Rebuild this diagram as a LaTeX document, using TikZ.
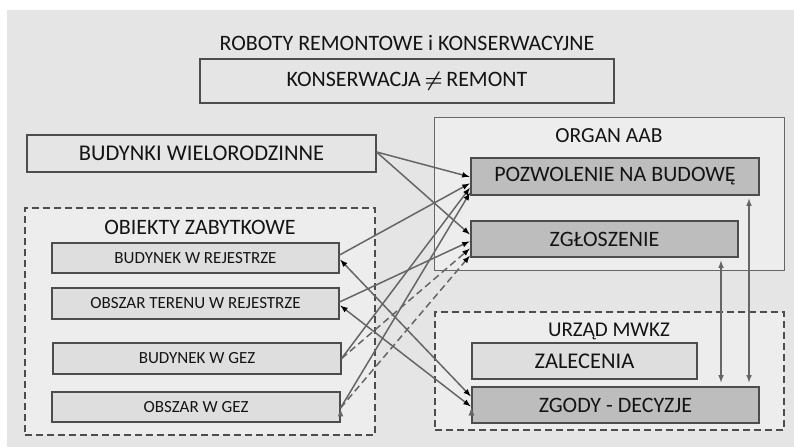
\documentclass[tikz,border=0pt]{standalone}
\usepackage{fontspec}
\setmainfont{Carlito}
\usetikzlibrary{arrows}
\definecolor{tlo}{HTML}{E5E5E5}
\definecolor{jasny}{HTML}{DEDEDE}
\definecolor{szary}{HTML}{BDBDBD}
\definecolor{wnetrze}{HTML}{EDEDED}
\definecolor{ramka}{HTML}{4D4D4D}
\definecolor{linia}{HTML}{666666}
\definecolor{tekst}{HTML}{141414}

\begin{document}
\begin{tikzpicture}[x=1pt,y=-1pt,shorten >=1pt,>=latex,
    box/.style={draw=ramka,line width=1.1pt,fill=jasny,inner sep=0pt,text=tekst},
    ciemny/.style={box,fill=szary},
    grupa/.style={draw=ramka,line width=1.2pt,fill=wnetrze,inner sep=0pt},
    kreski/.style={dash pattern=on 7pt off 4pt},
    napis/.style={text=tekst,inner sep=0pt},
    duzy/.style={font=\fontsize{22}{26}\selectfont},
    maly/.style={font=\fontsize{17}{20}\selectfont},
    strz/.style={draw=linia,line width=1.5pt}]

        \useasboundingbox (0,0) rectangle (794,447);
        \fill[tlo] (7,10) rectangle (794,447);

        \node[napis,duzy]  (T01) at (407,43)    {ROBOTY REMONTOWE i KONSERWACYJNE};
        \node[box,duzy,fill=tlo,minimum width=414pt,minimum height=44pt]
                           (K01) at (407,81)    {KONSERWACJA\,{\boldmath$\neq$}\,REMONT};

        \node[box,fill=tlo,minimum width=349pt,minimum height=37pt,font=\fontsize{22.5}{26}\selectfont]
                           (BW)  at (201.5,153.5) {BUDYNKI WIELORODZINNE};

        \node[grupa,kreski,minimum width=350pt,minimum height=227pt] (OZ) at (200,321.5) {};
        \node[napis,duzy]  (OZt) at (200,227)   {OBIEKTY ZABYTKOWE};
        \node[box,maly,minimum width=287pt,minimum height=30pt] (BR) at (195.5,258)   {BUDYNEK W REJESTRZE};
        \node[box,maly,minimum width=287pt,minimum height=31pt] (OR) at (195.5,303.5) {OBSZAR TERENU W REJESTRZE};
        \node[box,maly,minimum width=288pt,minimum height=31pt] (BG) at (197,358.5)   {BUDYNEK W GEZ};
        \node[box,maly,minimum width=288pt,minimum height=30pt] (OG) at (196,407)     {OBSZAR W GEZ};

        \node[grupa,fill=tlo!70!white,draw=linia,line width=1pt,minimum width=350pt,minimum height=153pt] (AAB) at (609,193.5) {};
        \node[napis,font=\fontsize{21.5}{25}\selectfont] (AABt) at (609,136) {ORGAN AAB};
        \node[ciemny,duzy,minimum width=288pt,minimum height=37pt]
                           (PB)  at (615,176.5) {POZWOLENIE NA BUDOWĘ};
        \node[ciemny,duzy,minimum width=267pt,minimum height=36pt]
                           (ZG)  at (604.5,239) {ZGŁOSZENIE};

        \node[grupa,kreski,minimum width=349pt,minimum height=118pt] (MW) at (609.5,371) {};
        \node[napis,font=\fontsize{21}{25}\selectfont] (MWt) at (609,331) {URZĄD MWKZ};
        \node[box,font=\fontsize{22.5}{26}\selectfont,minimum width=225pt,minimum height=36pt]
                           (ZA)  at (584.5,361) {ZALECENIA};
        \node[ciemny,font=\fontsize{22}{26}\selectfont,minimum width=287pt,minimum height=36pt]
                           (ZD)  at (615.5,405) {ZGODY - DECYZJE};

        \coordinate (S01) at (721,320);
        \coordinate (S02) at (749,320);

        \path[->,strz]
                  ([yshift=1.5pt]BW.east)  edge ([yshift=-0.5pt]PB.west)
                                           edge ([yshift=4pt]ZG.west)
                  ([yshift=3pt]BR.east)    edge ([yshift=-6.5pt]PB.west)
                  ([yshift=1.5pt]OR.east)  edge ([yshift=-2pt]ZG.west)
                  (BG.east)                edge ([yshift=-10.5pt]PB.west)
                                           edge [kreski] ([yshift=-9pt]ZG.west)
                  ([yshift=-1pt]OG.east)   edge ([yshift=-15.5pt]PB.west)
                                           edge [kreski] ([yshift=-16pt]ZG.west);

        \path[<->,strz,shorten <=1pt]
                  ([yshift=8pt]ZD.west)    edge ([yshift=-1pt]BR.east)
                  ([yshift=-2pt]ZD.west)   edge ([yshift=-1.5pt]OR.east);

        \draw[<->,strz,shorten <=3pt,shorten >=4pt] (S01 |- ZG.south) -- (S01 |- ZD.north);
        \draw[<->,strz,shorten <=3pt,shorten >=4pt] (S02 |- PB.south) -- (S02 |- ZD.north);
\end{tikzpicture}
\end{document}
